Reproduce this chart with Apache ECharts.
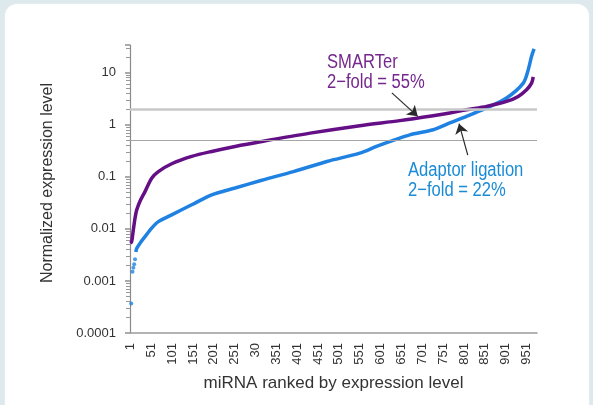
<!DOCTYPE html>
<html>
<head>
<meta charset="utf-8">
<script src="https://cdn.jsdelivr.net/npm/echarts@6/dist/echarts.min.js"></script>
<style>
  html, body { margin: 0; padding: 0; background: #dde9ec; }
  .card {
    position: absolute; left: 5px; top: 4px; width: 584px; height: 440px;
    background: #fff; border-radius: 12px; box-shadow: 0 0 0 1px #e3ecee;
  }
  #chart { position: absolute; left: 0; top: 0; width: 593px; height: 405px; }
</style>
</head>
<body>
<div class="card"></div>
<div id="chart"></div>
<script>
// tick labels
const xTickValues = [1, 51, 101, 151, 201, 251, 301, 351, 401, 451, 501, 551, 601, 651, 701, 751, 801, 851, 901, 951];
const xTickLabels = ['1', '51', '101', '151', '201', '251', '30', '351', '401', '451', '501', '551', '601', '651', '701', '751', '801', '851', '901', '951'];
const yTickLabels = ['0.0001', '0.001', '0.01', '0.1', '1', '10'];

// SMARTer (purple), sampled along the ranked curve
const smarterRank = [1, 4, 8, 12, 16, 24, 36, 52, 68, 100, 148, 196, 252, 316, 432, 551, 647, 727, 767, 807, 855, 903, 931, 951, 963, 967];
const smarterValue = [0.0053, 0.0057, 0.0096, 0.016, 0.023, 0.034, 0.052, 0.094, 0.126, 0.178, 0.246, 0.307, 0.383, 0.477, 0.69, 0.96, 1.2, 1.49, 1.68, 1.94, 2.25, 2.8, 3.5, 4.7, 6.3, 8.3];

// Adaptor ligation (blue): isolated low points, then the ranked curve
const adaptorLowRank = [3, 6, 8, 10, 12];
const adaptorLowValue = [0.00037, 0.0015, 0.0018, 0.0021, 0.0026];
const adaptorRank = [14, 16, 24, 36, 52, 68, 100, 148, 196, 252, 316, 392, 472, 551, 591, 631, 671, 727, 767, 807, 855, 903, 943, 955, 963, 969];
const adaptorValue = [0.0036, 0.0042, 0.0053, 0.0071, 0.0103, 0.0138, 0.0186, 0.029, 0.045, 0.061, 0.086, 0.126, 0.197, 0.285, 0.383, 0.5, 0.64, 0.8, 1.08, 1.44, 2.1, 3.26, 6.3, 11.4, 20.6, 28.6];

// 2-fold reference lines
const foldLines = [2, 0.5];

const purple = '#650f86';
const blue = '#1f82e2';
const sans = "'Liberation Sans', Arial, sans-serif";

const yMin = 0.0001, yMax = 34;

// minor log ticks (2..9 x 10^k), in log10 space for the overlay axis
const minorTicks = [];
for (let d = -4; d <= 1; d++) {
  for (let k = 2; k <= 9; k++) {
    const v = Math.log10(k) + d;
    if (v < Math.log10(yMax)) minorTicks.push(v);
  }
}

const pairs = (xs, ys) => xs.map((x, i) => [x, ys[i]]);

// narrow-looking annotation text (no condensed font installed, so squeeze it)
const note = (text, x, y, color) => ({
  type: 'text', x: x, y: y, scaleX: 0.83,
  style: { text: text, fill: color, font: '20px ' + sans }
});

const chart = echarts.init(document.getElementById('chart'));
chart.setOption({
  animation: false,
  grid: { left: 130, right: 56, top: 45, bottom: 72 },
  xAxis: {
    type: 'value',
    min: 0,
    max: 976,
    name: 'miRNA ranked by expression level',
    nameLocation: 'middle',
    nameGap: 42,
    nameTextStyle: { fontFamily: sans, fontSize: 17, color: '#333' },
    axisLine: { onZero: false, lineStyle: { color: '#9a9a9a', width: 1.5 } },
    axisTick: { show: false },
    splitLine: { show: false },
    axisLabel: {
      customValues: xTickValues,
      rotate: 90,
      margin: 10,
      fontFamily: sans,
      fontSize: 13,
      color: '#333',
      formatter: (v) => xTickLabels[xTickValues.indexOf(v)]
    }
  },
  yAxis: [
    {
      type: 'log',
      logBase: 10,
      min: yMin,
      max: yMax,
      interval: 1,
      name: 'Normalized expression level',
      nameLocation: 'middle',
      nameGap: 74,
      nameTextStyle: { fontFamily: sans, fontSize: 16, color: '#333', padding: [0, 0, 0, 12] },
      axisLine: { lineStyle: { color: '#8a8a8a', width: 1.2 } },
      axisTick: { length: 5, lineStyle: { color: '#aaa', width: 2 } },
      splitLine: { show: false },
      axisLabel: {
        margin: 14,
        fontFamily: sans,
        fontSize: 13,
        color: '#333',
        formatter: (v) => {
          const l = Math.log10(v);
          const k = Math.round(l);
          if (Math.abs(l - k) > 1e-6) return '';
          return yTickLabels[k + 4] || '';
        }
      }
    },
    {
      type: 'value',
      min: Math.log10(yMin),
      max: Math.log10(yMax),
      position: 'left',
      axisLine: { show: false },
      axisLabel: { show: false },
      splitLine: { show: false },
      axisTick: { customValues: minorTicks, length: 4, lineStyle: { color: '#999', width: 1 } }
    }
  ],
  series: [
    {
      name: 'fold lines',
      type: 'line',
      data: [],
      z: 1,
      markLine: {
        silent: true,
        symbol: 'none',
        label: { show: false },
        data: [
          { yAxis: foldLines[0], lineStyle: { color: '#c8c8c8', width: 2.5, type: 'solid' } },
          { yAxis: foldLines[1], lineStyle: { color: '#a6a6a6', width: 1.2, type: 'solid' } }
        ]
      }
    },
    {
      name: 'Adaptor ligation',
      type: 'line',
      data: pairs(adaptorRank, adaptorValue),
      smooth: 0.3,
      showSymbol: false,
      lineStyle: { color: blue, width: 3.5 },
      z: 3
    },
    {
      name: 'Adaptor ligation low',
      type: 'scatter',
      data: pairs(adaptorLowRank, adaptorLowValue),
      symbolSize: 4,
      itemStyle: { color: blue },
      z: 3
    },
    {
      name: 'SMARTer',
      type: 'line',
      data: pairs(smarterRank, smarterValue),
      smooth: 0.3,
      showSymbol: false,
      lineStyle: { color: purple, width: 3.5 },
      z: 4
    },
    {
      name: 'arrows',
      type: 'line',
      data: [],
      z: 5,
      markLine: {
        silent: true,
        symbol: ['none', 'arrow'],
        symbolSize: 10,
        label: { show: false },
        lineStyle: { color: '#2a2a2a', width: 1.2, type: 'solid' },
        data: [
          [{ coord: [628, 4.1] }, { coord: [690, 1.45] }],
          [{ coord: [810, 0.26] }, { coord: [789, 1.05] }]
        ]
      }
    }
  ],
  graphic: [
    note('SMARTer', 327, 52, '#74288d'),
    note('2\u2212fold = 55%', 327, 72, '#74288d'),
    note('Adaptor ligation', 408, 160, '#1a8bd6'),
    note('2\u2212fold = 22%', 408, 180, '#1a8bd6')
  ]
});
</script>
</body>
</html>
